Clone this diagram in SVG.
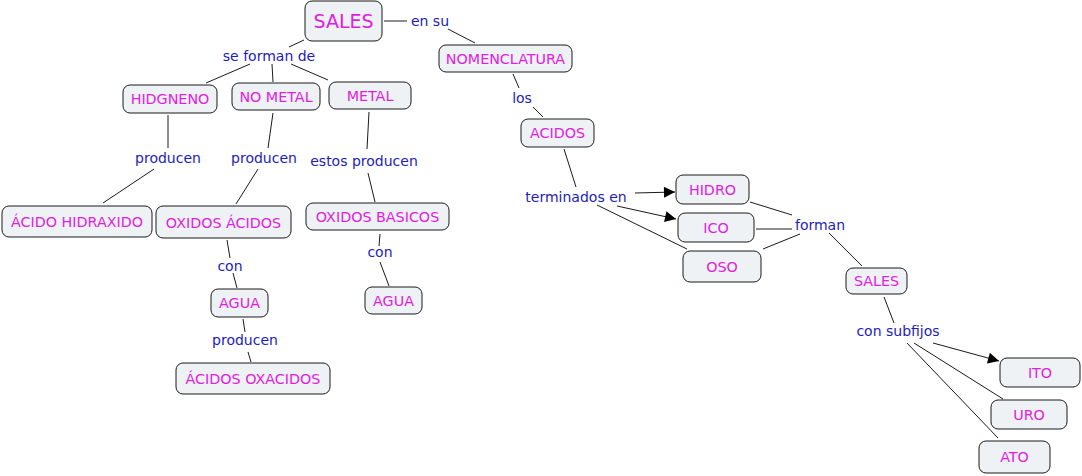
<svg xmlns="http://www.w3.org/2000/svg" width="1082" height="476" viewBox="0 0 1082 476">
<defs>
<style>
.n rect{fill:#eef2f4;stroke:#1a1a1a;stroke-width:1}
.n text{fill:#e020e0;font-family:"DejaVu Sans",Verdana,sans-serif;font-size:14.3px;text-anchor:middle;dominant-baseline:central}
.l{fill:#1c1cc0;font-family:"DejaVu Sans",Verdana,sans-serif;font-size:14px;text-anchor:middle;dominant-baseline:central}
#conn line{stroke:#1a1a1a;stroke-width:1}
#conn line.a{marker-end:url(#arr)}
</style>
<marker id="arr" viewBox="0 0 10 10" refX="10" refY="5" markerWidth="15" markerHeight="11" markerUnits="userSpaceOnUse" orient="auto">
<path d="M0,0 L10,5 L0,10 z" fill="#000"/>
</marker>
</defs>
<rect width="1082" height="476" fill="#fff"/>
<g id="conn">
<line x1="384" y1="21" x2="407" y2="21"/>
<line x1="448" y1="29" x2="475" y2="43"/>
<line x1="304" y1="40" x2="289" y2="47"/>
<line x1="250" y1="64" x2="206" y2="83"/>
<line x1="272" y1="64" x2="273" y2="82"/>
<line x1="291" y1="64" x2="328" y2="80"/>
<line x1="168" y1="115" x2="168" y2="148"/>
<line x1="154" y1="169" x2="103" y2="203"/>
<line x1="273" y1="113" x2="268" y2="148"/>
<line x1="258" y1="169" x2="236" y2="204"/>
<line x1="369" y1="112" x2="367" y2="149"/>
<line x1="368" y1="173" x2="375" y2="202"/>
<line x1="380" y1="234" x2="379" y2="246"/>
<line x1="380" y1="262" x2="389" y2="286"/>
<line x1="227" y1="240" x2="230" y2="258"/>
<line x1="233" y1="273" x2="237" y2="288"/>
<line x1="243" y1="319" x2="245" y2="332"/>
<line x1="248" y1="352" x2="251" y2="362"/>
<line x1="513" y1="74" x2="519" y2="88"/>
<line x1="533" y1="107" x2="543" y2="117"/>
<line x1="564" y1="149" x2="576" y2="187"/>
<line class="a" x1="635" y1="193" x2="675" y2="192"/>
<line class="a" x1="617" y1="206" x2="676" y2="219"/>
<line x1="597" y1="205" x2="687" y2="249"/>
<line x1="750" y1="202" x2="792" y2="215"/>
<line x1="756" y1="229" x2="792" y2="229"/>
<line x1="763" y1="249" x2="800" y2="234"/>
<line x1="829" y1="233" x2="862" y2="266"/>
<line x1="884" y1="297" x2="894" y2="323"/>
<line class="a" x1="933" y1="343" x2="999" y2="361"/>
<line x1="914" y1="343" x2="1003" y2="399"/>
<line x1="907" y1="343" x2="998" y2="438"/>
</g>
<g id="labels">
<text class="l" x="430" y="21">en su</text>
<text class="l" x="269" y="56">se forman de</text>
<text class="l" x="168" y="158">producen</text>
<text class="l" x="264" y="158">producen</text>
<text class="l" x="364" y="161">estos producen</text>
<text class="l" x="380" y="252">con</text>
<text class="l" x="230" y="266">con</text>
<text class="l" x="245" y="340">producen</text>
<text class="l" x="522" y="98">los</text>
<text class="l" x="576" y="197">terminados en</text>
<text class="l" x="820" y="225">forman</text>
<text class="l" x="898" y="331">con subfijos</text>
</g>
<g id="sales-top" class="n"><rect x="305" y="1" width="77" height="40" rx="7"/><text x="343.5" y="21" style="font-size:19px">SALES</text></g>
<g id="hidgneno" class="n"><rect x="123" y="85" width="94" height="28" rx="7"/><text x="170" y="99">HIDGNENO</text></g>
<g id="no-metal" class="n"><rect x="232" y="83" width="88" height="27" rx="7"/><text x="276" y="96.5">NO METAL</text></g>
<g id="metal" class="n"><rect x="329" y="82" width="82" height="27" rx="7"/><text x="370" y="95.5">METAL</text></g>
<g id="nomenclatura" class="n"><rect x="439" y="45" width="133" height="27" rx="7"/><text x="505.5" y="58.5">NOMENCLATURA</text></g>
<g id="acidos" class="n"><rect x="521" y="119" width="73" height="28" rx="7"/><text x="557.5" y="133">ACIDOS</text></g>
<g id="acido-hidraxido" class="n"><rect x="2" y="206" width="150" height="31" rx="7"/><text x="77" y="222">ÁCIDO HIDRAXIDO</text></g>
<g id="oxidos-acidos" class="n"><rect x="156" y="206" width="135" height="32" rx="7"/><text x="223.5" y="223">OXIDOS ÁCIDOS</text></g>
<g id="oxidos-basicos" class="n"><rect x="306" y="203" width="143" height="27" rx="7"/><text x="377.5" y="216.5">OXIDOS BASICOS</text></g>
<g id="agua-1" class="n"><rect x="211" y="289" width="57" height="28" rx="7"/><text x="239.5" y="303">AGUA</text></g>
<g id="agua-2" class="n"><rect x="365" y="287" width="57" height="27" rx="7"/><text x="393.5" y="300.5">AGUA</text></g>
<g id="acidos-oxacidos" class="n"><rect x="176" y="363" width="154" height="31" rx="7"/><text x="253" y="379">ÁCIDOS OXACIDOS</text></g>
<g id="hidro" class="n"><rect x="676" y="175" width="73" height="29" rx="7"/><text x="712.5" y="189.5">HIDRO</text></g>
<g id="ico" class="n"><rect x="678" y="213" width="76" height="29" rx="7"/><text x="716" y="227.5">ICO</text></g>
<g id="oso" class="n"><rect x="683" y="251" width="78" height="31" rx="7"/><text x="722" y="266.5">OSO</text></g>
<g id="sales-2" class="n"><rect x="846" y="268" width="61" height="26" rx="7"/><text x="876.5" y="281">SALES</text></g>
<g id="ito" class="n"><rect x="1000" y="358" width="80" height="29" rx="7"/><text x="1040" y="372.5">ITO</text></g>
<g id="uro" class="n"><rect x="991" y="400" width="76" height="29" rx="7"/><text x="1029" y="414.5">URO</text></g>
<g id="ato" class="n"><rect x="979" y="441" width="71" height="32" rx="7"/><text x="1014.5" y="457">ATO</text></g>
</svg>
